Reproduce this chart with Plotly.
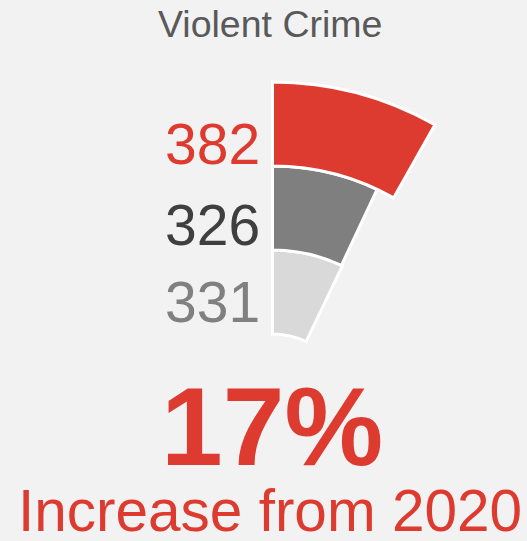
import plotly.graph_objects as go

# Yearly counts, innermost ring first
counts = [331, 326, 382]
ring_colors = ["#d9d9d9", "#7f7f7f", "#dd3b30"]
label_colors = ["#808080", "#3f3f3f", "#dd3b30"]
title_text = "Violent Crime"
base_year = "2020"

BG = "#f2f2f2"
RED = "#dd3b30"
DEG_PER_CASE = 0.0772  # angular sweep per reported case

# change between the base year (middle ring) and the latest year (outer ring)
change_pct = round((counts[2] - counts[1]) / counts[1] * 100)

sweeps = [c * DEG_PER_CASE for c in counts]

fig = go.Figure(
    go.Barpolar(
        r=[1, 1, 1],
        base=[0, 1, 2],
        theta=[s / 2 for s in sweeps],
        width=sweeps,
        marker=dict(color=ring_colors, line=dict(color="white", width=3)),
        hoverinfo="skip",
    )
)

fig.update_layout(
    width=527,
    height=541,
    autosize=False,
    margin=dict(l=0, r=0, t=0, b=0),
    paper_bgcolor=BG,
    plot_bgcolor=BG,
    showlegend=False,
    polar=dict(
        domain=dict(x=[0.4611, 0.9298], y=[0.2384, 0.8640]),
        sector=[50, 95],
        hole=0.2057,
        bgcolor=BG,
        radialaxis=dict(range=[-0.1, 3.1], visible=False, showgrid=False),
        angularaxis=dict(direction="clockwise", rotation=90, visible=False,
                         showgrid=False),
    ),
)

font_family = "Liberation Sans, Arial, sans-serif"

annotations = [
    dict(text=title_text, x=0.513, y=0.956, xanchor="center", yanchor="middle",
         font=dict(family=font_family, size=37.5, color="#595959")),
]

label_y = [0.4409, 0.584, 0.7335]
for val, col, yy in zip(counts, label_colors, label_y):
    annotations.append(
        dict(text=str(val), x=0.497, y=yy, xanchor="right", yanchor="middle",
             font=dict(family=font_family, size=57, color=col))
    )

annotations.append(
    dict(text=f"<b>{change_pct}%</b>", x=0.517, y=0.2098, xanchor="center",
         yanchor="middle", font=dict(family=font_family, size=111, color=RED))
)
annotations.append(
    dict(text=f"Increase from {base_year}", x=0.513, y=0.0565, xanchor="center",
         yanchor="middle", font=dict(family=font_family, size=58.5, color=RED))
)

for a in annotations:
    a.update(xref="paper", yref="paper", showarrow=False)
fig.update_layout(annotations=annotations)

fig.write_html("out.html")
